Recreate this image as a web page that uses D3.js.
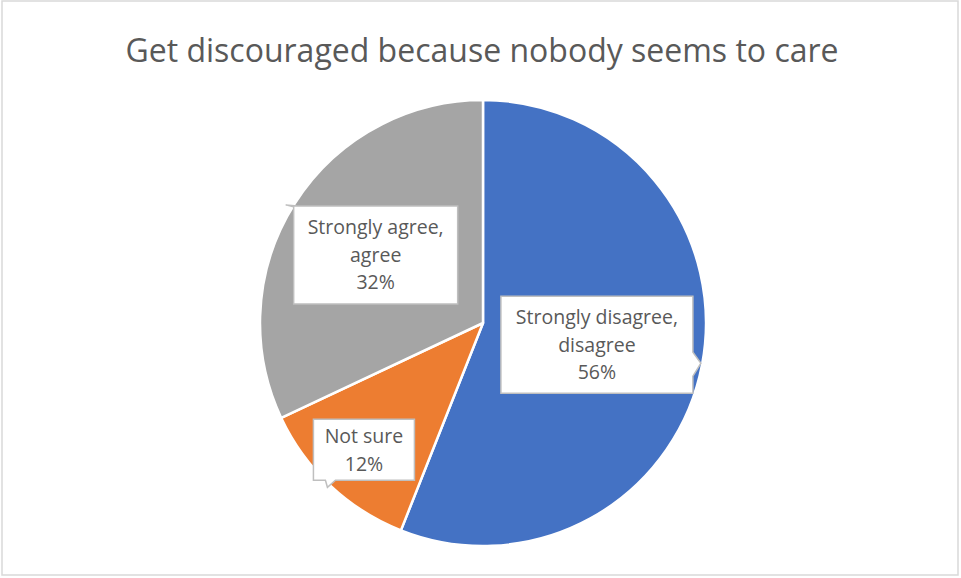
<!DOCTYPE html>
<html lang="en">
  <head>
    <meta charset="UTF-8" />
    <title>Pie</title>
    <script src="https://d3js.org/d3.v7.min.js"></script>
    <style>
      body { margin: 0; background: #fff; }
      text { font-family: "Open Sans", "Noto Sans", sans-serif; fill: #595959; }
    </style>
  </head>
  <body>
    <script>
      const width = 961, height = 578;

      const title = "Get discouraged because nobody seems to care";
      const categories = ["Strongly disagree, disagree", "Not sure", "Strongly agree, agree"];
      const values = [56, 12, 32];
      const labelLines = [["Strongly disagree,", "disagree"], ["Not sure"], ["Strongly agree,", "agree"]];
      const colors = ["#4472c4", "#ed7d31", "#a5a5a5"];

      const svg = d3.select("body").append("svg")
        .attr("width", width).attr("height", height);

      svg.append("rect")
        .attr("x", 2).attr("y", 1)
        .attr("width", 956).attr("height", 574)
        .attr("fill", "#fff").attr("stroke", "#d9d9d9").attr("stroke-width", 1.5);

      svg.append("text")
        .attr("x", 482).attr("y", 62)
        .attr("text-anchor", "middle")
        .style("font-size", "32px")
        .text(title);

      const cx = 483, cy = 323, r = 223;
      const pie = d3.pie().sort(null).value(d => d);
      const arcs = pie(values);
      const arc = d3.arc().innerRadius(0).outerRadius(r);

      const g = svg.append("g").attr("transform", `translate(${cx},${cy})`);

      g.selectAll("path.slice")
        .data(arcs)
        .enter()
        .append("path")
        .attr("class", "slice")
        .attr("d", arc)
        .attr("fill", (d, i) => colors[i])
        .attr("stroke", "#fff")
        .attr("stroke-width", 2.5)
        .attr("stroke-linejoin", "round");

      // label boxes: radius factor along the mid angle, box size, and callout side
      const boxes = [
        { k: 0.52, w: 192, h: 97, tip: "right" },
        { k: 0.78, w: 101, h: 61, tip: "bottom" },
        { k: 0.57, w: 164, h: 98, tip: "topleft" }
      ];

      function boxPath(b) {
        const x0 = -b.w / 2, y0 = -b.h / 2, x1 = b.w / 2, y1 = b.h / 2;
        if (b.tip === "right") {
          return `M${x0},${y0}H${x1}V${y0 + 56}L${x1 + 8},${y0 + 67}L${x1},${y0 + 80}V${y1}H${x0}Z`;
        }
        if (b.tip === "bottom") {
          return `M${x0},${y0}H${x1}V${y1}H${x0 + 22}L${x0 + 14},${y1 + 7}L${x0 + 12},${y1}H${x0}Z`;
        }
        return `M${x0},${y0}H${x1}V${y1}H${x0}V${y0 + 1}L${x0 - 8},${y0 - 1}L${x0 + 4},${y0}Z`;
      }

      const labels = g.selectAll("g.label")
        .data(arcs)
        .enter()
        .append("g")
        .attr("class", "label")
        .attr("transform", (d, i) => {
          const a = (d.startAngle + d.endAngle) / 2;
          const rr = r * boxes[i].k;
          return `translate(${rr * Math.sin(a)},${-rr * Math.cos(a)})`;
        });

      labels.append("path")
        .attr("d", (d, i) => boxPath(boxes[i]))
        .attr("fill", "#fff")
        .attr("stroke", "#bfbfbf")
        .attr("stroke-width", 1.5);

      labels.each(function (d, i) {
        const lines = labelLines[i].concat([values[i] + "%"]);
        const lh = 27.5;
        const t = d3.select(this).append("text")
          .attr("text-anchor", "middle")
          .style("font-size", "19.5px");
        lines.forEach((s, j) => {
          t.append("tspan")
            .attr("x", 0)
            .attr("y", (j - (lines.length - 1) / 2) * lh + 7)
            .text(s);
        });
      });
    </script>
  </body>
</html>
